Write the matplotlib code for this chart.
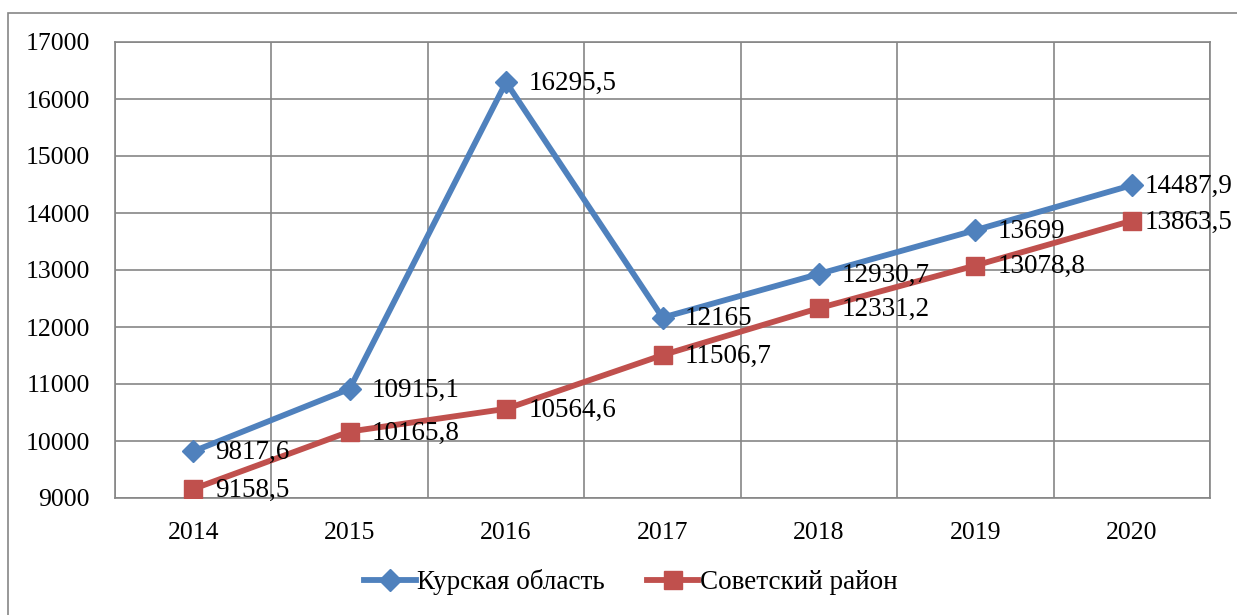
import matplotlib.pyplot as plt
from matplotlib.patches import Rectangle

years = ["2014", "2015", "2016", "2017", "2018", "2019", "2020"]
kursk = [9817.6, 10915.1, 16295.5, 12165, 12930.7, 13699, 14487.9]
sovetsky = [9158.5, 10165.8, 10564.6, 11506.7, 12331.2, 13078.8, 13863.5]
kursk_labels = ["9817,6", "10915,1", "16295,5", "12165", "12930,7", "13699", "14487,9"]
sovetsky_labels = ["9158,5", "10165,8", "10564,6", "11506,7", "12331,2", "13078,8", "13863,5"]

plt.rcParams['font.family'] = ['Liberation Serif', 'DejaVu Serif']

fig = plt.figure(figsize=(12.37, 6.15), dpi=100)
ax = fig.add_axes([115/1237, 1-498/615, (1210-115)/1237, (498-42)/615])

# outer chart border
fig.patches.append(Rectangle((8/1237, -0.05), 1.1, 1-13/615+0.05, transform=fig.transFigure,
                             fill=False, edgecolor='#868686', linewidth=1.2))

x = list(range(len(years)))
blue = '#4F81BD'
red = '#C0504D'
ax.plot(x, kursk, color=blue, linewidth=4.2, marker='D', markersize=11, label='Курская область', zorder=3)
ax.plot(x, sovetsky, color=red, linewidth=4.2, marker='s', markersize=13, label='Советский район', zorder=3)

# data labels to the right of points; last one pulled in so it fits
for labels, vals in ((kursk_labels, kursk), (sovetsky_labels, sovetsky)):
    for xi, v, t in zip(x, vals, labels):
        dx = 9.5 if xi == len(x) - 1 else 16
        ax.annotate(t, (xi, v), xytext=(dx, -1), textcoords='offset points',
                    ha='left', va='center', fontsize=19.5, zorder=4, annotation_clip=False)

ax.set_xlim(-0.5, 6.5)
ax.set_ylim(9000, 17000)
ax.set_yticks(range(9000, 17001, 1000))
ax.set_xticks(x)
ax.set_xticklabels(years)
ax.set_xticks([i + 0.5 for i in range(-1, 7)], minor=True)
ax.tick_params(axis='both', which='both', length=0, labelsize=18.5)
ax.tick_params(axis='y', pad=18)
ax.tick_params(axis='x', pad=17)
ax.grid(True, axis='y', color='#868686', linewidth=1.2)
ax.grid(True, axis='x', which='minor', color='#868686', linewidth=1.2)
ax.grid(False, axis='x', which='major')
for s in ax.spines.values():
    s.set_color('#868686')
    s.set_linewidth(1.2)

fig.legend(loc='center', bbox_to_anchor=(0.51, 1-582/615), ncol=2, frameon=False, fontsize=19.5,
           handlelength=1.9, columnspacing=1.55, handletextpad=0.05)

fig.savefig('out.png', dpi=100)
